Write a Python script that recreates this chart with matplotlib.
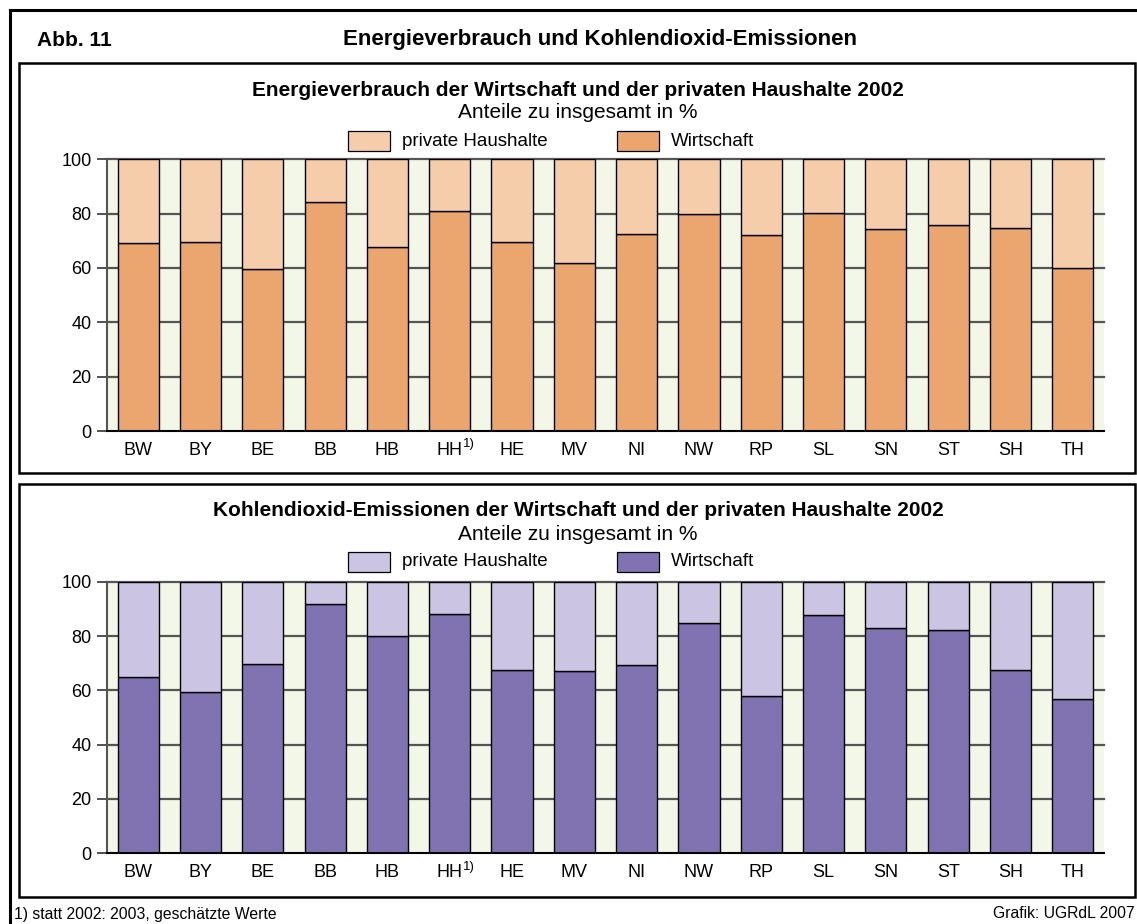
import matplotlib
matplotlib.use("Agg")
import matplotlib.pyplot as plt
from matplotlib.patches import Rectangle
from matplotlib.lines import Line2D
import matplotlib.transforms as mtransforms
import numpy as np

plt.rcParams['font.family'] = ['Liberation Sans', 'DejaVu Sans']

categories = ["BW", "BY", "BE", "BB", "HB", "HH", "HE", "MV", "NI", "NW",
              "RP", "SL", "SN", "ST", "SH", "TH"]
energy_wirtschaft = [69.3, 69.6, 59.7, 84.4, 67.6, 80.9, 69.7, 61.7, 72.5, 79.9,
                     72.1, 80.4, 74.5, 75.9, 74.8, 60.0]
energy_haushalte = [100 - v for v in energy_wirtschaft]
co2_wirtschaft = [64.8, 59.4, 69.8, 91.8, 79.9, 88.2, 67.6, 67.0, 69.2, 84.7,
                  58.0, 87.7, 82.8, 82.1, 67.4, 56.7]
co2_haushalte = [100 - v for v in co2_wirtschaft]
yticks = [0, 20, 40, 60, 80, 100]

W, H = 1137, 924
fig = plt.figure(figsize=(W / 100, H / 100), dpi=100)
fig.patch.set_facecolor("white")

def fx(px):
    return px / W

def fy(py):
    return 1 - py / H

# Outer frame (left, top; right and bottom lie outside the picture)
fig.add_artist(Line2D([fx(10), fx(10)], [fy(10), fy(H + 5)], color="black", lw=2.2))
fig.add_artist(Line2D([fx(10), fx(W + 5)], [fy(10), fy(10)], color="black", lw=2.2))

# Panels
for (y0, y1) in [(63, 473), (484, 897)]:
    fig.add_artist(Rectangle((fx(19), fy(y1)), fx(1135) - fx(19), fy(y0) - fy(y1),
                             fill=False, edgecolor="black", lw=1.8))

fig.text(fx(37), fy(40), "Abb. 11", fontsize=15, fontweight="bold", va="center", ha="left")
fig.text(fx(600), fy(40), "Energieverbrauch und Kohlendioxid-Emissionen", fontsize=16,
         fontweight="bold", va="center", ha="center")

cream = "#F3F7E8"
panels = [
    dict(top=159.3, bottom=431.0, wirt=energy_wirtschaft, priv=energy_haushalte,
         c_w="#EBA56E", c_p="#F6CDAA",
         title="Energieverbrauch der Wirtschaft und der privaten Haushalte 2002",
         ty=90, sy=113, ly=141),
    dict(top=581.7, bottom=853.3, wirt=co2_wirtschaft, priv=co2_haushalte,
         c_w="#8172B2", c_p="#CBC4E2",
         title="Kohlendioxid-Emissionen der Wirtschaft und der privaten Haushalte 2002",
         ty=510, sy=535, ly=562),
]

x = np.arange(len(categories))
for p in panels:
    ax = fig.add_axes([fx(107), fy(p["bottom"]), fx(1104) - fx(107),
                       (p["bottom"] - p["top"]) / H])
    ax.set_facecolor(cream)
    ax.set_xlim(-0.5, len(categories) - 0.5)
    ax.set_ylim(0, 100)
    for v in yticks[1:]:
        ax.axhline(v, color="#555555", lw=1.6, zorder=1, clip_on=False)
    ax.bar(x, p["wirt"], width=0.66, color=p["c_w"], edgecolor="black", lw=1.0, zorder=3)
    ax.bar(x, p["priv"], bottom=p["wirt"], width=0.66, color=p["c_p"],
           edgecolor="black", lw=1.0, zorder=3)
    for s in ["top", "right"]:
        ax.spines[s].set_visible(False)
    ax.spines["left"].set_color("#555555")
    ax.spines["left"].set_linewidth(1.5)
    ax.spines["bottom"].set_color("black")
    ax.spines["bottom"].set_linewidth(1.5)
    ax.spines["bottom"].set_zorder(5)
    ax.set_yticks(yticks)
    ax.set_yticklabels([str(v) for v in yticks], fontsize=13)
    ax.tick_params(axis="y", direction="out", length=7, width=1.2, color="#333333", pad=4)
    ax.set_xticks(x)
    ax.set_xticklabels(categories, fontsize=13)
    ax.tick_params(axis="x", length=0, pad=8)
    trans = mtransforms.blended_transform_factory(ax.transData, ax.transAxes)
    hh = categories.index("HH")
    ax.text(hh + 0.215, -0.027, "1)", fontsize=9.5, transform=trans, ha="left", va="top")

    fig.text(fx(578), fy(p["ty"]), p["title"], fontsize=15, fontweight="bold",
             ha="center", va="center")
    fig.text(fx(578), fy(p["sy"]), "Anteile zu insgesamt in %", fontsize=15,
             ha="center", va="center")
    # legend
    for (x0, col, lab) in [(348, p["c_p"], "private Haushalte"), (617, p["c_w"], "Wirtschaft")]:
        fig.add_artist(Rectangle((fx(x0), fy(p["ly"] + 10)), fx(42), 20 / H,
                                 facecolor=col, edgecolor="black", lw=0.9))
        fig.text(fx(x0 + 54), fy(p["ly"]), lab, fontsize=13.5, ha="left", va="center")

fig.text(fx(14), fy(914), "1) statt 2002: 2003, geschätzte Werte", fontsize=11.3,
         ha="left", va="center")
fig.text(fx(1135), fy(914), "Grafik: UGRdL 2007", fontsize=11.3, ha="right", va="center")

fig.savefig("out.png", dpi=100)
